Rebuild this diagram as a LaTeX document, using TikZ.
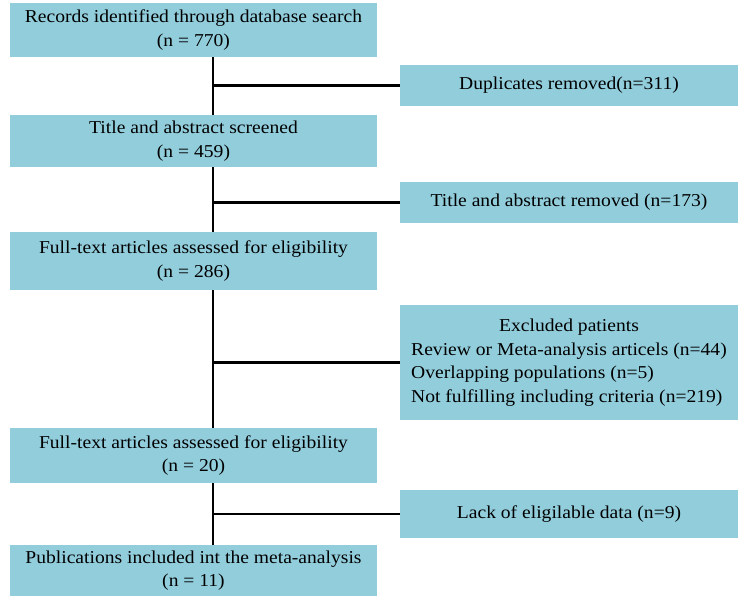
\documentclass[tikz,border=0pt]{standalone}
\usepackage{fontspec}
\setmainfont{Liberation Serif}[FakeStretch=1.08]
\usetikzlibrary{positioning}
\definecolor{cajaazul}{RGB}{146,205,220}

\begin{document}
\begin{tikzpicture}[x=0.75pt,y=-0.75pt,
	caja/.style={fill=cajaazul, align=center, inner sep=0pt, font=\fontsize{13.6}{17.6}\selectfont},
	izq/.style={caja, minimum width=275.25pt},
	der/.style={caja, minimum width=253.5pt},
	linea/.style={line width=2pt}]
	\useasboundingbox (0,0) rectangle (739,596);
	
	% Cajas de la columna principal
	\node[izq, minimum height=40.5pt] (rec) at (193.5,30) {Records identified through database search\\(n = 770)};
	\node[izq, minimum height=39pt] (tit) at (193.5,141) {Title and abstract screened\\(n = 459)};
	\node[izq, minimum height=43.5pt] (ful) at (193.5,261) {Full-text articles assessed for eligibility\\(n = 286)};
	\node[izq, minimum height=41.25pt] (fuldos) at (193.5,455.5) {Full-text articles assessed for eligibility\\(n = 20)};
	\node[izq, minimum height=38.25pt] (pub) at (193.5,570.5) {Publications included int the meta-analysis\\(n = 11)};
	
	% Cajas de exclusiones
	\node[der, minimum height=30.75pt] (dup) at (569,85.5) {Duplicates removed(n=311)};
	\node[der, minimum height=30.75pt] (tar) at (569,202.5) {Title and abstract removed (n=173)};
	\node[der, minimum height=86.25pt] (exc) at (569,362.5) {\begin{tabular}{@{}l@{}}
			\multicolumn{1}{@{}c@{}}{Excluded patients}\\
			Review or Meta-analysis articels (n=44)\\
			Overlapping populations (n=5)\\
			Not fulfilling including criteria (n=219)
		\end{tabular}};
	\node[der, minimum height=36pt] (lac) at (569,514) {Lack of eligilable data (n=9)};
	
	% Lineas
	\coordinate (tronco) at (213,0);
	\foreach \a/\b in {rec/tit, tit/ful, ful/fuldos, fuldos/pub}
		\draw[linea] (\a.south -| tronco) -- (\b.north -| tronco);
	\foreach \r in {dup, tar, exc, lac}
		\draw[linea] (\r.west -| tronco) -- (\r.west);
\end{tikzpicture}
\end{document}
